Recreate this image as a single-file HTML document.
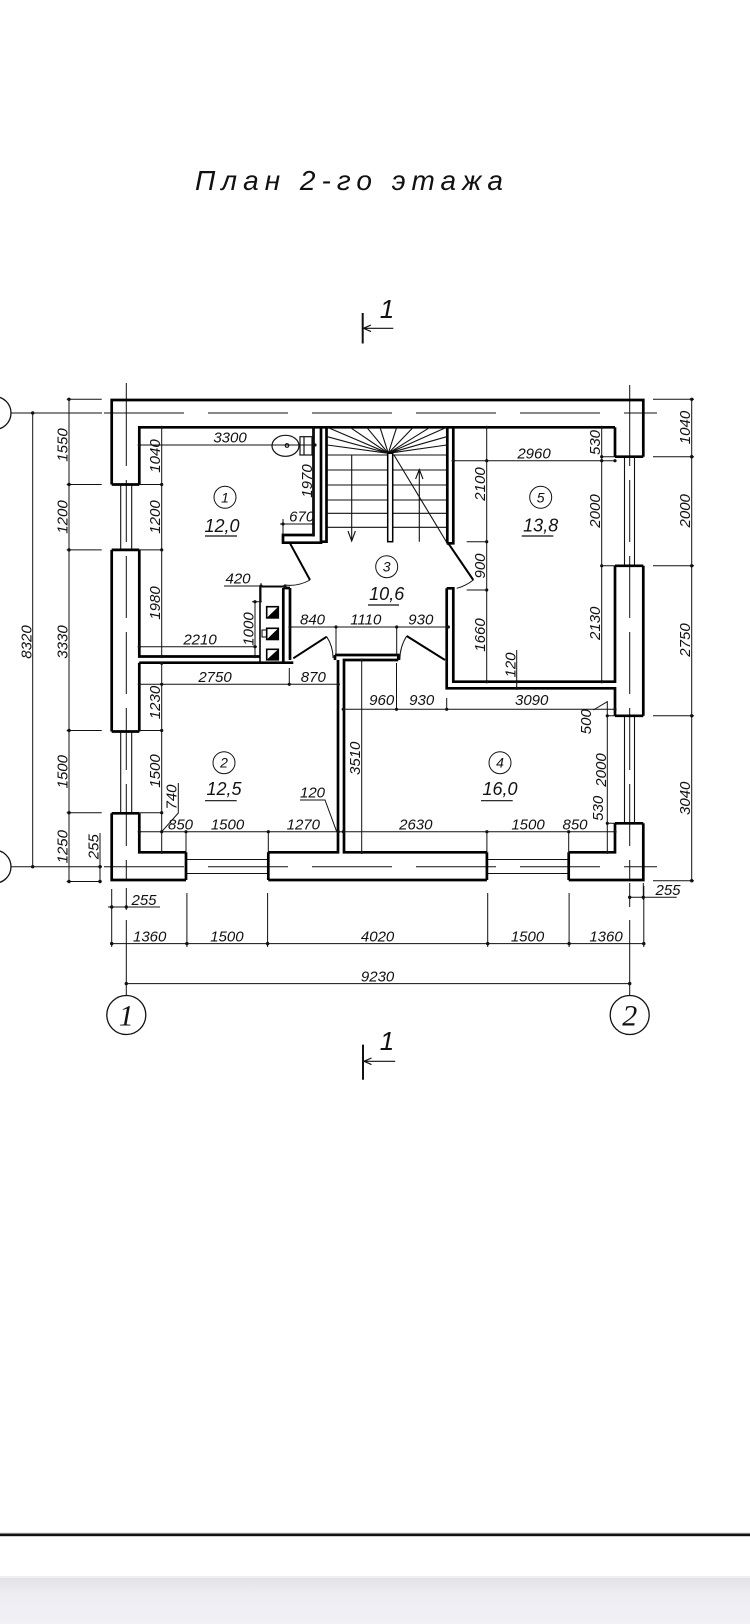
<!DOCTYPE html>
<html><head><meta charset="utf-8"><style>
html,body{margin:0;padding:0;background:#fff;}
svg{display:block;}
text{font-family:"Liberation Sans","DejaVu Sans",sans-serif;font-style:italic;fill:#111;}
.d{font-size:15px;}
.r{font-size:18px;}
.c{font-size:14px;}
</style></head><body>
<svg width="750" height="1624" viewBox="0 0 750 1624" xmlns="http://www.w3.org/2000/svg">
<rect x="0" y="0" width="750" height="1624" fill="#fff"/>

<!-- Title -->
<text x="195" y="190" font-size="28" textLength="308" lengthAdjust="spacing">План 2-го этажа</text>

<!-- Section marks -->
<g stroke="#111" fill="none">
<path d="M362.7,313 V343.5 M363,1044.6 V1079.8" stroke-width="2"/>
<path d="M363.5,328.3 H393.3 M371,325 L363.5,328.3 L371,331.6 M364,1061.3 H395.2 M371.5,1058 L364,1061.3 L371.5,1064.6" stroke-width="1.2"/>
</g>
<text x="387" y="318" font-size="26" text-anchor="middle">1</text>
<text x="387" y="1050" font-size="26" text-anchor="middle">1</text>

<!-- Axis circles -->
<g stroke="#111" stroke-width="1.3" fill="none">
<circle cx="126.3" cy="1015" r="19.5"/>
<circle cx="629.7" cy="1015" r="19.5"/>
<circle cx="-5.5" cy="413" r="16.5"/>
<circle cx="-5.5" cy="866.7" r="16.5"/>
</g>
<text x="126.3" y="1025.5" font-size="30" text-anchor="middle" style="font-family:'Liberation Serif',serif;">1</text>
<text x="629.7" y="1025.5" font-size="30" text-anchor="middle" style="font-family:'Liberation Serif',serif;">2</text>

<!-- Axis lines -->
<g stroke="#111" stroke-width="1" fill="none">
<path d="M11,413 H102 M11,866.7 H102"/>
<path d="M104,413 H657 M104,866.7 H657" stroke-dasharray="80 24"/>
<path d="M126.3,383 V404 M629.7,385 V404"/>
<path d="M126.3,404 V880 M629.7,404 V880" stroke-dasharray="62 14"/>
<path d="M126.3,888 V910 M126.3,920 V995.5 M629.7,883 V907 M629.7,920 V995.5"/>
</g>

<!-- Outer dimensions -->
<g stroke="#111" stroke-width="1" fill="none">
<path d="M32.7,413 V866.7"/>
<path d="M69,399.3 V881.5"/>
<path d="M66.7,399.3 H101.7 M66.7,484.5 H101.7 M66.7,549.9 H101.7 M66.7,730.5 H101.7 M66.7,812.7 H101.7 M66.7,881.5 H101.7"/>
<path d="M100,833 V882"/>
<path d="M691.7,398.3 V881"/>
<path d="M653,399.3 H694 M653,456.7 H694 M653,565.8 H694 M653,715.8 H694 M653,880.7 H694"/>
<path d="M628.3,897.3 H676.7 M643.3,883 V900"/>
<path d="M108,907 H160"/>
<path d="M111.7,889 V947 M186.9,893 V947 M267.6,893 V947 M487.7,893 V947 M569.1,893 V947 M643.8,886 V947"/>
<path d="M110,943.6 H644"/>
<path d="M126.3,983.6 H629.7"/>
</g>
<g fill="#111">
<circle cx="32.7" cy="413" r="1.7"/><circle cx="32.7" cy="866.7" r="1.7"/>
<circle cx="69" cy="399.3" r="1.7"/><circle cx="69" cy="484.5" r="1.7"/><circle cx="69" cy="549.9" r="1.7"/><circle cx="69" cy="730.5" r="1.7"/><circle cx="69" cy="812.7" r="1.7"/><circle cx="69" cy="881.5" r="1.7"/>
<circle cx="100" cy="866.7" r="1.7"/><circle cx="100" cy="881.5" r="1.7"/>
<circle cx="691.7" cy="399.3" r="1.7"/><circle cx="691.7" cy="456.7" r="1.7"/><circle cx="691.7" cy="565.8" r="1.7"/><circle cx="691.7" cy="715.8" r="1.7"/><circle cx="691.7" cy="880.7" r="1.7"/>
<circle cx="629.7" cy="897.3" r="1.7"/><circle cx="643.3" cy="897.3" r="1.7"/>
<circle cx="111.7" cy="907" r="1.7"/><circle cx="126.3" cy="907" r="1.7"/>
<circle cx="111.7" cy="943.6" r="1.7"/><circle cx="186.9" cy="943.6" r="1.7"/><circle cx="267.6" cy="943.6" r="1.7"/><circle cx="487.7" cy="943.6" r="1.7"/><circle cx="569.1" cy="943.6" r="1.7"/><circle cx="643.8" cy="943.6" r="1.7"/>
<circle cx="126.3" cy="983.6" r="1.7"/><circle cx="629.7" cy="983.6" r="1.7"/>
</g>
<g class="d">
<text x="31.5" y="642" text-anchor="middle" transform="rotate(-90 31.5 642)">8320</text>
<text x="67.5" y="445" text-anchor="middle" transform="rotate(-90 67.5 445)">1550</text>
<text x="67.5" y="517" text-anchor="middle" transform="rotate(-90 67.5 517)">1200</text>
<text x="67.5" y="642" text-anchor="middle" transform="rotate(-90 67.5 642)">3330</text>
<text x="67.5" y="771.7" text-anchor="middle" transform="rotate(-90 67.5 771.7)">1500</text>
<text x="67.5" y="846.7" text-anchor="middle" transform="rotate(-90 67.5 846.7)">1250</text>
<text x="98.5" y="846.7" text-anchor="middle" transform="rotate(-90 98.5 846.7)">255</text>
<text x="690" y="427.5" text-anchor="middle" transform="rotate(-90 690 427.5)">1040</text>
<text x="690" y="510.8" text-anchor="middle" transform="rotate(-90 690 510.8)">2000</text>
<text x="690" y="640" text-anchor="middle" transform="rotate(-90 690 640)">2750</text>
<text x="690" y="798.3" text-anchor="middle" transform="rotate(-90 690 798.3)">3040</text>
<text x="668" y="895" text-anchor="middle">255</text>
<text x="144" y="905" text-anchor="middle">255</text>
<text x="149.7" y="941.5" text-anchor="middle">1360</text>
<text x="226.9" y="941.5" text-anchor="middle">1500</text>
<text x="377.6" y="941.5" text-anchor="middle">4020</text>
<text x="527.5" y="941.5" text-anchor="middle">1500</text>
<text x="606" y="941.5" text-anchor="middle">1360</text>
<text x="377.6" y="981.5" text-anchor="middle">9230</text>
</g>

<!-- Windows (thin) -->
<g stroke="#111" stroke-width="1.1" fill="none">
<path d="M120.7,484.5 V549.9 M131.7,484.5 V549.9 M120.7,731.5 V813.3 M131.7,731.5 V813.3"/>
<path d="M186,859.5 H268.3 M186,873.5 H268.3 M486.9,859.5 H568.7 M486.9,873.5 H568.7"/>
<path d="M624.5,456.7 V565.8 M634.5,456.7 V565.8 M624.5,715.8 V823.3 M634.5,715.8 V823.3"/>
</g>

<!-- Walls (thick) -->
<g stroke="#000" stroke-width="2.7" fill="none" stroke-linejoin="miter">
<path d="M111.7,484.5 V400 H643.3 V456.7"/>
<path d="M643.3,565.8 V715.8"/>
<path d="M643.3,823.3 V880 H568.7"/>
<path d="M486.9,880 H268.3"/>
<path d="M186,880 H111.7 V813.3"/>
<path d="M111.7,731.5 V549.9"/>
<path d="M111.7,484.5 H139.3 M111.7,549.9 H139.3 M111.7,731.5 H139.3 M111.7,813.3 H139.3"/>
<path d="M186,852.3 V880 M268.3,852.3 V880 M486.9,852.3 V880 M568.7,852.3 V880"/>
<path d="M615,456.7 H643.3 M615,565.8 H643.3 M615,715.8 H643.3 M615,823.3 H643.3"/>
<!-- room 1 -->
<path d="M139.3,484.5 V427.3 H615"/>
<path d="M313.5,427.3 V535 H283 V542.7 H321 V427.3"/>
<path d="M139.3,549.9 V656.5 H260"/>
<path d="M139.3,662.7 H293.3"/>
<path d="M283.3,588 V662.7 M290,588 V660 M283.3,588 H290"/>
<!-- room 2 -->
<path d="M139.3,662.7 V731.5"/>
<path d="M139.3,813.3 V852.3 H186"/>
<path d="M268.3,852.3 H338 V660"/>
<!-- hall bottom wall -->
<path d="M335,655 H398.3 V660 M335,655 V660"/>
<!-- room 4 -->
<path d="M486.9,852.3 H344 V660 H398.3"/>
<path d="M446.7,588.3 V688.3 H615 V715.8"/>
<path d="M615,823.3 V852.3 H568.7"/>
<!-- room 5 -->
<path d="M453.3,427.3 V543.3 H446.7"/>
<path d="M446.7,588.3 H453.3 V681.7 H615 V565.8"/>
<path d="M615,456.7 V427.3"/>
<!-- stair -->
<path d="M326.5,427 V541.7 H321 M447.3,427 V543.3"/>
</g>

<!-- Chimney block -->
<g stroke="#000" stroke-width="1.6" fill="none">
<path d="M283.3,586.7 H260 V662"/>
<rect x="266.7" y="606.7" width="11.6" height="11.2"/>
<rect x="266.7" y="628.3" width="11.6" height="11.2"/>
<rect x="266.7" y="649.3" width="11.6" height="10.5"/>
<rect x="262" y="630" width="4.7" height="7" stroke-width="1"/>
</g>
<g fill="#000">
<polygon points="278.3,606.7 278.3,617.9 266.7,617.9"/>
<polygon points="278.3,628.3 278.3,639.5 266.7,639.5"/>
<polygon points="278.3,649.3 278.3,659.8 266.7,659.8"/>
</g>

<!-- Toilet -->
<g stroke="#111" stroke-width="1.2" fill="#fff">
<ellipse cx="285.5" cy="445.8" rx="13.5" ry="10.5"/>
<circle cx="287" cy="445.5" r="1.8" fill="none"/>
<rect x="300" y="436.7" width="12" height="18.3"/>
<path d="M304,436.7 V455" fill="none"/>
</g>

<!-- Stair -->
<g stroke="#111" stroke-width="1.1" fill="none">
<path d="M327.3,455 H446.5 M327.3,470 H446.5 M327.3,485 H446.5 M327.3,500 H446.5 M327.3,513.3 H446.5 M327.3,527.3 H446.5"/>
<path d="M388.3,453.3 L327.3,427.3 M388.3,453.3 L350,427.3 M388.3,453.3 L366.7,427.3 M388.3,453.3 L380,427.3 M388.3,453.3 L396.7,427.3 M388.3,453.3 L413.3,427.3 M388.3,453.3 L430,427.3 M388.3,453.3 L446.7,427.3 M388.3,453.3 L327.3,436.7 M388.3,453.3 L327.3,445 M388.3,453.3 L446.7,436.7 M388.3,453.3 L446.7,445"/>
<path d="M351.7,455 V541 M348,531 L351.7,541 L355.4,531"/>
<path d="M419.3,470 V541.7 M415.6,479 L419.3,469.5 L423,479"/>
<path d="M394,455 L448.3,545"/>
</g>
<rect x="387.7" y="453.3" width="5" height="88.4" fill="#fff" stroke="#000" stroke-width="1.5"/>

<!-- Doors -->
<g stroke="#000" stroke-width="2" fill="none">
<path d="M290,543.3 L310,580"/>
<path d="M448.3,543.3 L473.3,580"/>
<path d="M293.3,658.3 L326.7,636.7"/>
<path d="M445,660 L406.7,636"/>
</g>
<g stroke="#111" stroke-width="1" fill="none">
<path d="M310,580 A41.8 41.8 0 0 1 285.3,585.1"/>
<path d="M473.3,580 A44.4 44.4 0 0 1 456.7,588.3"/>
<path d="M326.7,636.7 A39.8 39.8 0 0 1 333.1,658"/>
<path d="M406.7,636 A45.2 45.2 0 0 0 399.8,660"/>
</g>

<!-- Inner dimension lines -->
<g stroke="#111" stroke-width="1" fill="none">
<path d="M139.3,445 H315"/>
<path d="M161.7,427.3 V656.5 M139.3,484.5 H162 M139.3,549.9 H162"/>
<path d="M313.3,427.3 V535"/>
<path d="M280,524 H313.3 M283,519 V535"/>
<path d="M224,586 H286 M261,583 V601"/>
<path d="M255,601.7 V657 M252,601.7 H262"/>
<path d="M139.3,646.7 H257"/>
<path d="M290,627 H448.3 M336,627 V656 M396.7,627 V656"/>
<path d="M138.3,684.3 H338.3 M289.3,668 V684.3"/>
<path d="M161.7,663 V852.3 M139.3,730.5 H162 M139.3,812.7 H162"/>
<path d="M178.3,783 V813 L161.7,831.7"/>
<path d="M138.3,831.7 H343.3 M186,831.7 V852.3 M268.3,831.7 V852.3"/>
<path d="M300,800 H325 L336.7,831.7"/>
<path d="M361.7,660 V854"/>
<path d="M341.7,709.3 H615 M396.5,663 V709.3 M446.7,698 V709.3"/>
<path d="M343.3,831.7 H615 M486.9,831.7 V852.3 M568.7,831.7 V852.3"/>
<path d="M607.3,701 V852.3 M607.3,715.8 H615 M607.3,823.3 H615 M593.3,710 L607.3,701.7"/>
<path d="M516.7,650 V688.3"/>
<path d="M451.7,460.7 H615"/>
<path d="M486.7,427.3 V681.7 M466.7,541.7 H487 M466.7,590 H487"/>
<path d="M601.7,427.3 V681.7 M601.7,456.7 H615 M601.7,565.8 H615"/>
</g>
<g fill="#111">
<circle cx="139.3" cy="445" r="1.6"/><circle cx="315" cy="445" r="1.6"/>
<circle cx="161.7" cy="427.3" r="1.6"/><circle cx="161.7" cy="484.5" r="1.6"/><circle cx="161.7" cy="549.9" r="1.6"/><circle cx="161.7" cy="656.5" r="1.6"/>
<circle cx="313.3" cy="445" r="1.6"/><circle cx="313.3" cy="535" r="1.6"/>
<circle cx="283" cy="524" r="1.6"/><circle cx="313.3" cy="524" r="1.6"/>
<circle cx="261" cy="586" r="1.6"/><circle cx="285" cy="586" r="1.6"/>
<circle cx="255" cy="601.7" r="1.6"/><circle cx="255" cy="656.5" r="1.6"/>
<circle cx="139.3" cy="646.7" r="1.6"/><circle cx="255" cy="646.7" r="1.6"/>
<circle cx="290" cy="627" r="1.6"/><circle cx="336" cy="627" r="1.6"/><circle cx="396.7" cy="627" r="1.6"/><circle cx="448.3" cy="627" r="1.6"/>
<circle cx="139.3" cy="684.3" r="1.6"/><circle cx="161.7" cy="684.3" r="1.6"/><circle cx="289.3" cy="684.3" r="1.6"/><circle cx="338.3" cy="684.3" r="1.6"/>
<circle cx="161.7" cy="663.3" r="1.6"/><circle cx="161.7" cy="730.5" r="1.6"/><circle cx="161.7" cy="812.7" r="1.6"/><circle cx="161.7" cy="852.3" r="1.6"/>
<circle cx="139.3" cy="831.7" r="1.6"/><circle cx="161.7" cy="831.7" r="1.6"/><circle cx="186" cy="831.7" r="1.6"/><circle cx="268.3" cy="831.7" r="1.6"/><circle cx="338.3" cy="831.7" r="1.6"/><circle cx="343.3" cy="831.7" r="1.6"/>
<circle cx="361.7" cy="660" r="1.6"/><circle cx="361.7" cy="852.3" r="1.6"/>
<circle cx="343.3" cy="709.3" r="1.6"/><circle cx="396.5" cy="709.3" r="1.6"/><circle cx="446.7" cy="709.3" r="1.6"/><circle cx="615" cy="709.3" r="1.6"/>
<circle cx="486.9" cy="831.7" r="1.6"/><circle cx="568.7" cy="831.7" r="1.6"/><circle cx="615" cy="831.7" r="1.6"/>
<circle cx="607.3" cy="715.8" r="1.6"/><circle cx="607.3" cy="823.3" r="1.6"/><circle cx="607.3" cy="852.3" r="1.6"/>
<circle cx="516.7" cy="681.7" r="1.6"/><circle cx="516.7" cy="688.3" r="1.6"/>
<circle cx="453.3" cy="460.7" r="1.6"/><circle cx="486.7" cy="460.7" r="1.6"/><circle cx="601.7" cy="460.7" r="1.6"/><circle cx="615" cy="460.7" r="1.6"/>
<circle cx="486.7" cy="427.3" r="1.6"/><circle cx="486.7" cy="541.7" r="1.6"/><circle cx="486.7" cy="590" r="1.6"/><circle cx="486.7" cy="681.7" r="1.6"/>
<circle cx="601.7" cy="427.3" r="1.6"/><circle cx="601.7" cy="456.7" r="1.6"/><circle cx="601.7" cy="565.8" r="1.6"/><circle cx="601.7" cy="681.7" r="1.6"/>
</g>
<g class="d">
<text x="230" y="442.5" text-anchor="middle">3300</text>
<text x="160" y="456" text-anchor="middle" transform="rotate(-90 160 456)">1040</text>
<text x="160" y="517" text-anchor="middle" transform="rotate(-90 160 517)">1200</text>
<text x="160" y="603" text-anchor="middle" transform="rotate(-90 160 603)">1980</text>
<text x="312" y="481" text-anchor="middle" transform="rotate(-90 312 481)">1970</text>
<text x="301.7" y="521.5" text-anchor="middle">670</text>
<text x="238" y="583.5" text-anchor="middle">420</text>
<text x="253.5" y="629" text-anchor="middle" transform="rotate(-90 253.5 629)">1000</text>
<text x="200" y="644.5" text-anchor="middle">2210</text>
<text x="312.5" y="624.5" text-anchor="middle">840</text>
<text x="365.8" y="624.5" text-anchor="middle">1110</text>
<text x="420.8" y="624.5" text-anchor="middle">930</text>
<text x="215" y="682" text-anchor="middle">2750</text>
<text x="313.3" y="682" text-anchor="middle">870</text>
<text x="160" y="702.5" text-anchor="middle" transform="rotate(-90 160 702.5)">1230</text>
<text x="160" y="771" text-anchor="middle" transform="rotate(-90 160 771)">1500</text>
<text x="176.5" y="797" text-anchor="middle" transform="rotate(-90 176.5 797)">740</text>
<text x="180.5" y="829.5" text-anchor="middle">850</text>
<text x="227.5" y="829.5" text-anchor="middle">1500</text>
<text x="303.3" y="829.5" text-anchor="middle">1270</text>
<text x="312.5" y="797.5" text-anchor="middle">120</text>
<text x="360" y="758.3" text-anchor="middle" transform="rotate(-90 360 758.3)">3510</text>
<text x="381.7" y="705" text-anchor="middle">960</text>
<text x="421.7" y="705" text-anchor="middle">930</text>
<text x="531.7" y="705" text-anchor="middle">3090</text>
<text x="415.8" y="829.3" text-anchor="middle">2630</text>
<text x="528" y="829.3" text-anchor="middle">1500</text>
<text x="575" y="829.3" text-anchor="middle">850</text>
<text x="591" y="721.7" text-anchor="middle" transform="rotate(-90 591 721.7)">500</text>
<text x="606" y="770" text-anchor="middle" transform="rotate(-90 606 770)">2000</text>
<text x="603" y="808.3" text-anchor="middle" transform="rotate(-90 603 808.3)">530</text>
<text x="515.5" y="665" text-anchor="middle" transform="rotate(-90 515.5 665)">120</text>
<text x="534" y="458.5" text-anchor="middle">2960</text>
<text x="485" y="484" text-anchor="middle" transform="rotate(-90 485 484)">2100</text>
<text x="485" y="566" text-anchor="middle" transform="rotate(-90 485 566)">900</text>
<text x="485" y="635" text-anchor="middle" transform="rotate(-90 485 635)">1660</text>
<text x="600" y="442.5" text-anchor="middle" transform="rotate(-90 600 442.5)">530</text>
<text x="600" y="511" text-anchor="middle" transform="rotate(-90 600 511)">2000</text>
<text x="600" y="623.3" text-anchor="middle" transform="rotate(-90 600 623.3)">2130</text>
</g>

<!-- Room labels -->
<g stroke="#111" stroke-width="1" fill="none">
<circle cx="225" cy="497.3" r="11"/>
<circle cx="224" cy="762.7" r="11"/>
<circle cx="386.7" cy="566.7" r="11"/>
<circle cx="500" cy="762.7" r="11"/>
<circle cx="540.7" cy="497.3" r="11"/>
<path d="M205,536 H237 M205,800.7 H236.7 M368,605 H399 M481,800.7 H512.7 M521.7,536 H553.3" stroke-width="1.2"/>
</g>
<g class="c">
<text x="225" y="502.3" text-anchor="middle">1</text>
<text x="224" y="767.7" text-anchor="middle">2</text>
<text x="386.7" y="571.7" text-anchor="middle">3</text>
<text x="500" y="767.7" text-anchor="middle">4</text>
<text x="540.7" y="502.3" text-anchor="middle">5</text>
</g>
<g class="r">
<text x="222" y="532" text-anchor="middle">12,0</text>
<text x="224" y="795" text-anchor="middle">12,5</text>
<text x="386.7" y="600" text-anchor="middle">10,6</text>
<text x="500" y="795" text-anchor="middle">16,0</text>
<text x="540.7" y="531.7" text-anchor="middle">13,8</text>
</g>

<!-- Bottom page chrome -->
<rect x="0" y="1532.5" width="750" height="4.5" fill="#cfcfcf"/>
<rect x="0" y="1533.6" width="750" height="2.4" fill="#111"/>
<defs>
<linearGradient id="gb" x1="0" y1="0" x2="0" y2="1">
<stop offset="0" stop-color="#e3e2e7"/>
<stop offset="0.4" stop-color="#efeef3"/>
<stop offset="1" stop-color="#f1f0f5"/>
</linearGradient>
</defs>
<rect x="0" y="1576.5" width="750" height="1" fill="#e2e2e2"/>
<rect x="0" y="1578" width="750" height="46" fill="url(#gb)"/>
</svg>
</body></html>
